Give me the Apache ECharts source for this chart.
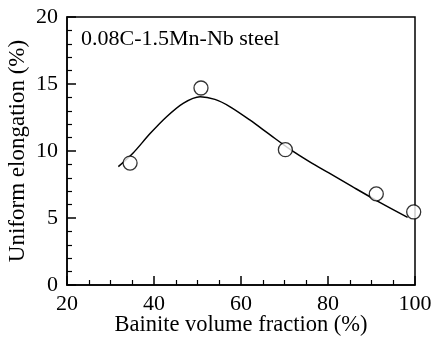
<!DOCTYPE html>
<html>
<head>
<meta charset="utf-8">
<script src="https://cdn.jsdelivr.net/npm/echarts@6/dist/echarts.min.js"></script>
<style>html,body{margin:0;padding:0;background:#fff}#c{width:432px;height:340px}</style>
</head>
<body>
<div id="c"></div>
<script>
var measuredX = [34.5, 50.8, 70.2, 91.1, 99.7];
var measuredY = [9.1, 14.7, 10.1, 6.8, 5.45];
var fitX = [31.8, 35.2, 39.1, 42.9, 46.7, 50.6, 54.0, 57.5, 62.1, 66.7, 71.3, 75.9, 80.1, 85.8, 92.0, 98.3];
var fitY = [8.83, 9.85, 11.3, 12.56, 13.56, 14.05, 13.85, 13.3, 12.3, 11.2, 10.12, 9.17, 8.38, 7.3, 6.15, 5.05];
var xTicks = [20, 40, 60, 80, 100];
var yTicks = [0, 5, 10, 15, 20];
var annotation = '0.08C-1.5Mn-Nb steel';

var font = 'Liberation Serif';
var chart = echarts.init(document.getElementById('c'), null, {renderer: 'canvas'});
chart.setOption({
  animation: false,
  grid: {left: 67, right: 17, top: 17, bottom: 55, containLabel: false, outerBoundsMode: 'none',
         show: true, borderColor: '#000', borderWidth: 1.5, backgroundColor: 'transparent'},
  xAxis: {
    type: 'value', min: xTicks[0], max: xTicks[xTicks.length - 1], interval: 20,
    name: 'Bainite volume fraction (%)', nameLocation: 'middle', nameGap: 29, nameMoveOverlap: false,
    nameTextStyle: {fontFamily: font, fontSize: 22.5, color: '#000'},
    axisLine: {lineStyle: {color: '#000', width: 1.5}},
    axisTick: {inside: true, length: 9, lineStyle: {color: '#000', width: 1.5}},
    minorTick: {show: true, splitNumber: 4, length: 5, lineStyle: {color: '#000', width: 1.2}},
    splitLine: {show: false},
    axisLabel: {fontFamily: font, fontSize: 22, color: '#000', margin: 8}
  },
  yAxis: {
    type: 'value', min: yTicks[0], max: yTicks[yTicks.length - 1], interval: 5,
    name: 'Uniform elongation (%)', nameLocation: 'middle', nameGap: 38, nameMoveOverlap: false,
    nameTextStyle: {fontFamily: font, fontSize: 23, color: '#000'},
    axisLine: {lineStyle: {color: '#000', width: 1.5}},
    axisTick: {inside: true, length: 9, lineStyle: {color: '#000', width: 1.5}},
    minorTick: {show: true, splitNumber: 5, length: 5, lineStyle: {color: '#000', width: 1.2}},
    splitLine: {show: false},
    axisLabel: {fontFamily: font, fontSize: 22, color: '#000', margin: 9}
  },
  graphic: [{
    type: 'text', left: 81, top: 28,
    style: {text: annotation, fontFamily: font, fontSize: 22, fill: '#000'}
  }],
  series: [{
    type: 'line', smooth: 0.3, showSymbol: false,
    data: fitX.map(function (x, i) { return [x, fitY[i]]; }),
    lineStyle: {color: '#000', width: 1.5}
  }, {
    type: 'scatter', symbol: 'circle', symbolSize: 14,
    data: measuredX.map(function (x, i) { return [x, measuredY[i]]; }),
    itemStyle: {color: '#fff', borderColor: '#000', borderWidth: 1.3},
    z: 5
  }]
});
</script>
</body>
</html>
